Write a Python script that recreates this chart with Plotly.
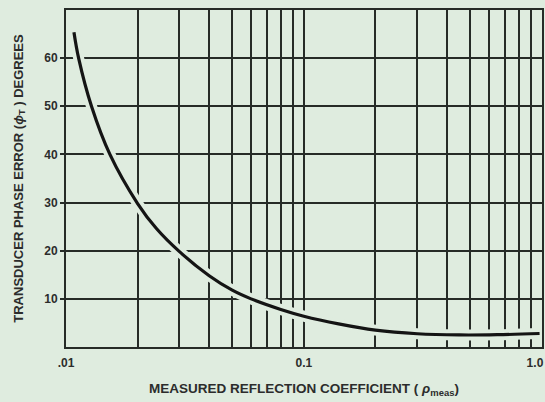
import plotly.graph_objects as go

# Measured reflection coefficient vs. transducer phase error
rho_meas = [0.0108, 0.0113, 0.0128, 0.0153, 0.0200, 0.0240, 0.0300,
            0.040, 0.050, 0.060, 0.080, 0.100, 0.140, 0.200, 0.300, 0.450,
            0.650, 0.980]
phase_err = [65.4, 60.0, 50.0, 40.0, 29.8, 24.6, 19.8,
             14.8, 11.8, 10.0, 7.8, 6.4, 4.8, 3.5, 2.75, 2.5,
             2.55, 2.8]

# Log grid: one line per unit step in each decade, labels only at the decades
x_tickvals = [0.01, 0.02, 0.03, 0.04, 0.05, 0.06, 0.07, 0.08, 0.09,
              0.1, 0.2, 0.3, 0.4, 0.5, 0.6, 0.7, 0.8, 0.9, 1.0]
x_ticktext = [".01", "", "", "", "", "", "", "", "",
              "0.1", "", "", "", "", "", "", "", "", "1.0\u2007\u2007"]
y_tickvals = [10, 20, 30, 40, 50, 60]
y_ticktext = ["10", "20", "30", "40", "50", "60"]

BG = "#dfecdf"
INK = "#262b27"
TXT = "#2c2c2c"
FONT = "Liberation Sans"

fig = go.Figure()
# knock-out band under the curve so grid lines break around it
fig.add_trace(go.Scatter(x=rho_meas, y=phase_err, mode="lines",
                         line=dict(color=BG, width=11, shape="spline", smoothing=1.0),
                         hoverinfo="skip", showlegend=False))
fig.add_trace(go.Scatter(x=rho_meas, y=phase_err, mode="lines",
                         line=dict(color="#141414", width=3.2, shape="spline", smoothing=1.0),
                         showlegend=False))

fig.update_layout(
    width=545, height=402,
    margin=dict(l=66, r=3, t=10, b=55, autoexpand=False),
    paper_bgcolor=BG, plot_bgcolor=BG,
    font=dict(family=FONT, color=TXT, size=11),
    xaxis=dict(
        type="log", range=[-2, 0.0015], automargin=False,
        tickvals=x_tickvals, ticktext=x_ticktext,
        ticklabeloverflow="allow",
        showgrid=True, gridcolor=INK, gridwidth=1.8,
        showline=True, linecolor=INK, linewidth=2, mirror=True,
        ticks="", ticklabelstandoff=4,
        tickfont=dict(family=FONT, size=12, color=TXT, weight="bold"),
        zeroline=False,
        title=dict(text="MEASURED REFLECTION COEFFICIENT ( <i>ρ</i><sub>meas</sub>)",
                   font=dict(family=FONT, size=13.5, color=TXT, weight="bold"),
                   standoff=14),
    ),
    yaxis=dict(
        range=[0, 70], automargin=False,
        tickvals=y_tickvals, ticktext=y_ticktext,
        showgrid=True, gridcolor=INK, gridwidth=1.8,
        showline=True, linecolor=INK, linewidth=2, mirror=True,
        ticks="outside", ticklen=4, tickcolor=INK, tickwidth=1.8,
        tickfont=dict(family=FONT, size=12, color=TXT, weight="bold"),
        zeroline=False,
        title=dict(text="TRANSDUCER PHASE ERROR (<i>ϕ</i><sub>T</sub> ) DEGREES",
                   font=dict(family=FONT, size=13, color=TXT, weight="bold"),
                   standoff=18),
    ),
)

fig.write_html("out.html")
